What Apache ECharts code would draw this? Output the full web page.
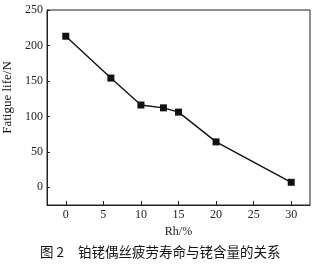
<!DOCTYPE html>
<html><head><meta charset="utf-8">
<script src="https://cdn.jsdelivr.net/npm/echarts@6/dist/echarts.min.js"></script>
<style>html,body{margin:0;padding:0;background:#fff}#c{width:321px;height:266px}</style>
</head><body><div id="c"></div>
<script>
var rhContent = [0, 6, 10, 13, 15, 20, 30];
var fatigueLife = [213, 154, 116, 112, 106, 64, 7];
var xTicks = [0, 5, 10, 15, 20, 25, 30];
var yTicks = [0, 50, 100, 150, 200, 250];
var xName = 'Rh/%';
var yName = 'Fatigue life/N';
var captionNum = '图 2';
var captionText = '铂铑偶丝疲劳寿命与铑含量的关系';

var chart = echarts.init(document.getElementById('c'), null, {renderer: 'canvas'});
var serif = 'Liberation Serif';
var capStyle = {fontFamily: 'Noto Sans CJK SC', fontSize: 13.5, fontWeight: 'normal', fill: '#111'};
chart.setOption({
  animation: false,
  backgroundColor: '#fff',
  graphic: [
    {type: 'text', left: 40, top: 245, style: Object.assign({text: captionNum}, capStyle)},
    {type: 'text', left: 78, top: 245, style: Object.assign({text: captionText}, capStyle)}
  ],
  grid: {left: 47, right: 11, top: 10, bottom: 61, show: true, borderColor: '#222', borderWidth: 1,
         containLabel: false, outerBoundsMode: 'none'},
  xAxis: {
    type: 'value', min: -2.5, max: 32.5,
    name: xName, nameLocation: 'middle', nameGap: 18,
    nameTextStyle: {fontFamily: serif, fontSize: 12, color: '#222'},
    axisLine: {show: true, onZero: false, lineStyle: {color: '#222', width: 1}},
    axisTick: {show: true, inside: true, length: 4, customValues: xTicks, lineStyle: {color: '#222'}},
    axisLabel: {customValues: xTicks, fontFamily: serif, fontSize: 12, color: '#222', margin: 4},
    splitLine: {show: false}
  },
  yAxis: {
    type: 'value', min: -25, max: 250,
    name: yName, nameLocation: 'middle', nameGap: 26, nameRotate: 90,
    nameTextStyle: {fontFamily: serif, fontSize: 13, fontWeight: 'normal', color: '#111', padding: [0, 0, 0, 20]},
    axisLine: {show: true, onZero: false, lineStyle: {color: '#222', width: 1}},
    axisTick: {show: true, inside: true, length: 3, customValues: yTicks, lineStyle: {color: '#222'}},
    axisLabel: {customValues: yTicks, fontFamily: serif, fontSize: 12, color: '#222', margin: 4},
    splitLine: {show: false}
  },
  series: [{
    type: 'line',
    data: rhContent.map(function (x, i) { return [x, fatigueLife[i]]; }),
    symbol: 'rect', symbolSize: 7,
    itemStyle: {color: '#111'},
    lineStyle: {color: '#111', width: 1.4}
  }]
});
</script></body></html>
